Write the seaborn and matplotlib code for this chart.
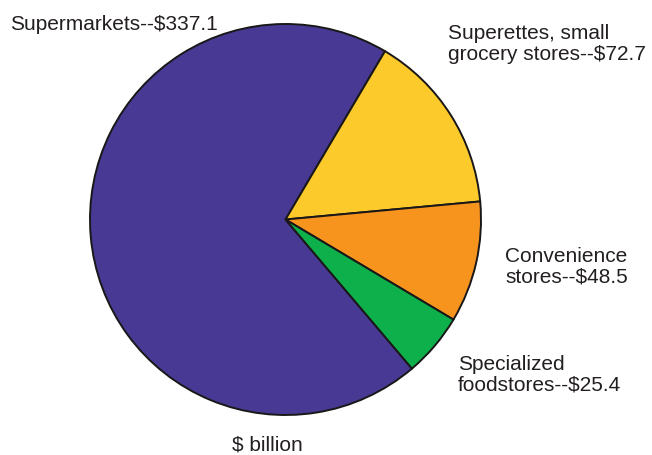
import matplotlib
matplotlib.use("Agg")
import matplotlib.pyplot as plt
import seaborn as sns

categories = ["Supermarkets", "Superettes, small\ngrocery stores", "Convenience\nstores", "Specialized\nfoodstores"]
values = [337.1, 72.7, 48.5, 25.4]
colors = ["#483A94", "#FCCB2B", "#F7941E", "#0DB04B"]
unit_label = "$ billion"

sns.set_theme(style="white")
plt.rcParams['font.family'] = ['Liberation Sans', 'DejaVu Sans']

W, H = 652, 456
fig = plt.figure(figsize=(W / 100, H / 100), dpi=100)

cx, cy, r = 285.5, 220.5, 195.5
ax = fig.add_axes([(cx - r) / W, (H - cy - r) / H, 2 * r / W, 2 * r / H])
ax.pie(values, colors=colors, startangle=310.3, counterclock=False,
       wedgeprops=dict(edgecolor="#1A1718", linewidth=1.4))
ax.set_xlim(-1, 1)
ax.set_ylim(-1, 1)
ax.set_aspect("equal")
ax.axis("off")

txt_color = "#231F20"
fs = 15
labels = [f"{c}--${v}" for c, v in zip(categories, values)]
# (left x, baseline y of last line) in pixels from top
positions = [(10, 30), (448, 60), (505, 283), (458, 391)]
for lab, (x, y) in zip(labels, positions):
    fig.text(x / W, 1 - y / H, lab, ha="left", va="baseline", fontsize=fs,
             color=txt_color, linespacing=1.15)

fig.text(267 / W, 1 - 451 / H, unit_label, ha="center", va="baseline",
         fontsize=fs, color=txt_color)

fig.savefig("out.png", dpi=100, facecolor="white")
